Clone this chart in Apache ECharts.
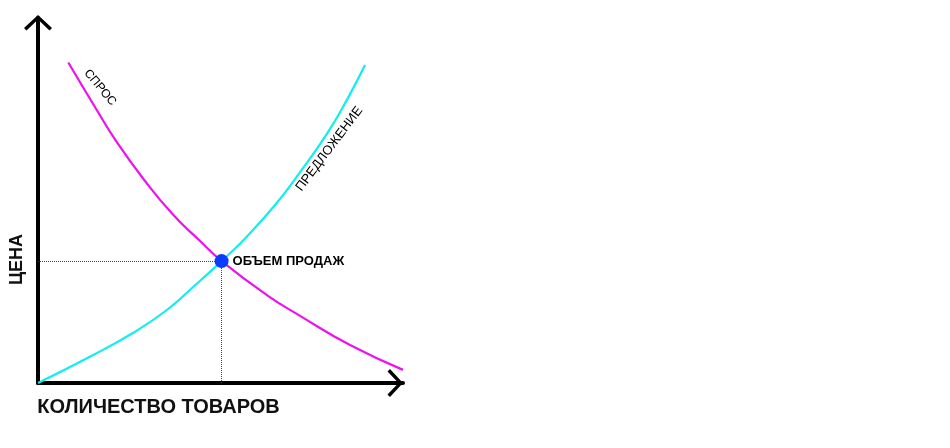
<!DOCTYPE html>
<html>
<head>
<meta charset="utf-8">
<script src="https://cdn.jsdelivr.net/npm/echarts@6/dist/echarts.min.js"></script>
<style>
html,body{margin:0;padding:0;background:#fff;}
#chart{width:950px;height:448px;}
</style>
</head>
<body>
<div id="chart"></div>
<script>
// Data (abstract units: quantity 0..100, price 0..100)
const axisTitles = { x: 'КОЛИЧЕСТВО ТОВАРОВ', y: 'ЦЕНА' };
const seriesNames = { demand: 'СПРОС', supply: 'ПРЕДЛОЖЕНИЕ', point: 'ОБЪЕМ ПРОДАЖ' };
const demandQty   = [8.3, 16.1, 21.6, 28.9, 37.1, 44.4, 50.3, 62.7, 71.8, 85.5, 100];
const demandPrice = [87.8, 74.8, 66.0, 55.9, 46.0, 38.9, 33.4, 24.1, 18.4, 10.4, 3.6];
const supplyQty   = [0, 14.2, 26.0, 35.3, 42.5, 50.3, 57.2, 65.4, 71.8, 79.1, 84.6, 89.6];
const supplyPrice = [0, 7.2, 13.7, 20.0, 26.3, 33.4, 40.1, 49.3, 57.8, 68.2, 77.5, 87.1];
const equilibrium = [50.3, 33.4];

const FONT = 'Liberation Sans';
const chevron = 'path://M14 0 L28 13 L25.5 15.5 L14 4.5 L2.5 15.5 L0 13 Z';

function buildData(xs, ys, labelIdx, labelOpt) {
  return xs.map(function (x, i) {
    const item = { value: [x, ys[i]] };
    if (i === labelIdx) item.label = labelOpt;
    return item;
  });
}

const chart = echarts.init(document.getElementById('chart'));
chart.setOption({
  animation: false,
  backgroundColor: '#ffffff',
  grid: { left: 38, top: 18, width: 365, height: 365, containLabel: false },
  xAxis: {
    type: 'value', min: 0, max: 100,
    name: axisTitles.x, nameLocation: 'middle', nameGap: 14,
    nameTextStyle: { fontFamily: FONT, fontWeight: 'bold', fontSize: 20, color: '#111', padding: [0, 124, 0, 0], verticalAlign: 'top' },
    axisLine: { show: true, lineStyle: { color: '#000', width: 4 }, symbol: ['none', chevron], symbolSize: [28, 15.5], symbolOffset: [0, -7.75] },
    axisTick: { show: false }, axisLabel: { show: false }, splitLine: { show: false }
  },
  yAxis: {
    type: 'value', min: 0, max: 100,
    name: axisTitles.y, nameLocation: 'middle', nameGap: 12, nameRotate: 90,
    nameTextStyle: { fontFamily: FONT, fontWeight: 'bold', fontSize: 18, color: '#111', padding: [0, 118, 0, 0] },
    axisLine: { show: true, lineStyle: { color: '#000', width: 4 }, symbol: ['none', chevron], symbolSize: [28, 15.5], symbolOffset: [0, -4.75] },
    axisTick: { show: false }, axisLabel: { show: false }, splitLine: { show: false }
  },
  series: [
    {
      name: seriesNames.demand, type: 'line', smooth: 0.5,
      symbol: 'circle', symbolSize: 0.1, showSymbol: true,
      lineStyle: { color: '#ee11ee', width: 2.2 }, itemStyle: { color: '#ee11ee' },
      data: buildData(demandQty, demandPrice, 1, {
        show: true, formatter: seriesNames.demand, position: 'inside', rotate: -50,
        offset: [-15, -17], fontFamily: FONT, fontSize: 12, color: '#000', align: 'center', verticalAlign: 'middle'
      }),
      z: 3
    },
    {
      name: seriesNames.supply, type: 'line', smooth: 0.5,
      symbol: 'circle', symbolSize: 0.1, showSymbol: true,
      lineStyle: { color: '#11eeee', width: 2.2 }, itemStyle: { color: '#11eeee' },
      data: buildData(supplyQty, supplyPrice, 8, {
        show: true, formatter: seriesNames.supply, position: 'inside', rotate: 53,
        offset: [36, 9.5], fontFamily: FONT, fontSize: 13, color: '#000', align: 'center', verticalAlign: 'middle'
      }),
      z: 3
    },
    {
      name: seriesNames.point, type: 'scatter', symbol: 'circle', symbolSize: 14,
      itemStyle: { color: '#0a3cff', opacity: 1 },
      label: { show: true, position: 'right', distance: 4, formatter: seriesNames.point, fontFamily: FONT, fontWeight: 'bold', fontSize: 13, color: '#000' },
      data: [equilibrium],
      markLine: {
        silent: true, symbol: 'none', label: { show: false },
        lineStyle: { color: '#444', type: 'dotted', width: 1 },
        data: [
          [{ coord: [0, equilibrium[1]] }, { coord: [equilibrium[0], equilibrium[1]] }],
          [{ coord: [equilibrium[0], 0] }, { coord: [equilibrium[0], equilibrium[1]] }]
        ]
      },
      z: 5
    }
  ]
});
</script>
</body>
</html>
